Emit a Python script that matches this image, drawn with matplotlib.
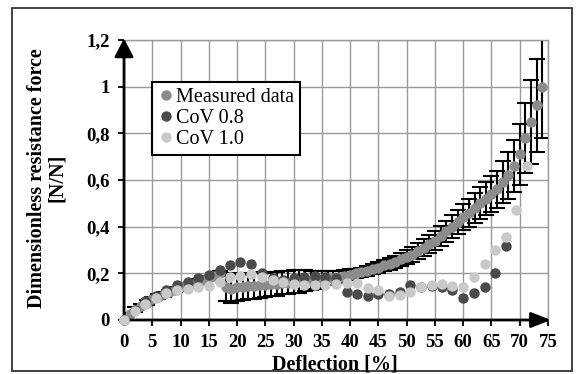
import numpy as np
import matplotlib
matplotlib.use('Agg')
import matplotlib.pyplot as plt
from matplotlib.patches import Rectangle

# measured data, 1 % steps, with standard deviation
meas_x = list(range(0, 75))
meas_y = [0.0, 0.025, 0.045, 0.06, 0.075, 0.09, 0.10, 0.11, 0.12, 0.13, 0.14, 0.15, 0.155, 0.165, 0.17, 0.18, 0.19, 0.20,
          0.14, 0.135, 0.14, 0.14, 0.145, 0.145, 0.15, 0.15, 0.155, 0.155, 0.16, 0.16, 0.165, 0.165, 0.17, 0.17, 0.172,
          0.175, 0.178, 0.18, 0.185, 0.19, 0.195,
          0.2, 0.205, 0.21, 0.22, 0.225, 0.235, 0.24, 0.25, 0.26, 0.27, 0.28, 0.295, 0.31, 0.325, 0.34, 0.36, 0.38,
          0.40, 0.42, 0.44, 0.46, 0.48, 0.50, 0.52, 0.54, 0.56, 0.59, 0.62, 0.66, 0.71, 0.78, 0.85, 0.92, 1.0]
meas_err = [0.0, 0.005, 0.01, 0.01, 0.01, 0.01, 0.01, 0.01, 0.01, 0.01, 0.01, 0.01, 0.01, 0.01, 0.01, 0.01, 0.01, 0.01,
            0.06, 0.06, 0.06, 0.055, 0.055, 0.055, 0.055, 0.05, 0.05, 0.05, 0.05, 0.05, 0.05, 0.05, 0.045, 0.04, 0.04,
            0.035, 0.03, 0.03, 0.025, 0.025, 0.025,
            0.02, 0.02, 0.02, 0.022, 0.022, 0.024, 0.025, 0.026, 0.028, 0.03, 0.032, 0.034, 0.036, 0.038, 0.04, 0.042,
            0.045, 0.048, 0.052, 0.056, 0.06, 0.064, 0.068, 0.072, 0.076, 0.08, 0.09, 0.1, 0.11, 0.13, 0.15, 0.18,
            0.2, 0.22]

# simulations
cov_x = [0, 1.9, 3.8, 5.6, 7.5, 9.4, 11.3, 13.1, 15, 16.9, 18.8, 20.6, 22.5, 24.4, 26.3, 28.1, 30, 31.9, 33.8,
         35.6, 37.5, 39.4, 41.3, 43.1, 45, 46.9, 48.8, 50.6, 52.5, 54.4, 56.3, 58.1, 60, 61.9, 63.8, 65.6, 67.5,
         69.4, 71.3]
cov08_y = [0, 0.045, 0.08, 0.105, 0.13, 0.15, 0.165, 0.18, 0.195, 0.215, 0.235, 0.25, 0.24, 0.2, 0.18, 0.17, 0.18,
           0.186, 0.19, 0.186, 0.18, 0.12, 0.11, 0.105, 0.11, 0.11, 0.12, 0.15, 0.14, 0.145, 0.14, 0.13, 0.094,
           0.115, 0.143, 0.2, 0.318]
cov10_y = [0, 0.04, 0.07, 0.095, 0.115, 0.13, 0.135, 0.14, 0.145, 0.165, 0.183, 0.19, 0.197, 0.185, 0.17, 0.165,
           0.155, 0.15, 0.15, 0.15, 0.155, 0.158, 0.158, 0.137, 0.13, 0.105, 0.107, 0.12, 0.143, 0.15, 0.155, 0.145,
           0.14, 0.186, 0.24, 0.3, 0.356, 0.47, 0.66]

xticks = list(range(0, 80, 5))
yticks = [0, 0.2, 0.4, 0.6, 0.8, 1.0, 1.2]
ytick_labels = ['0', '0,2', '0,4', '0,6', '0,8', '1', '1,2']

plt.rcParams['font.family'] = ['Liberation Serif', 'DejaVu Serif']

fig = plt.figure(figsize=(5.81, 3.74), dpi=100)
ax = fig.add_axes([124 / 581, 1 - 320 / 374, 424 / 581, 280 / 374])

# outer frame round the whole chart
fig.patches.append(Rectangle((12 / 581, 3 / 374), 560 / 581, 363 / 374, transform=fig.transFigure,
                             fill=False, edgecolor='#333333', linewidth=1.3))

ax.errorbar(meas_x, meas_y, yerr=meas_err, fmt='none', ecolor='black', elinewidth=1.5,
            capsize=5.5, capthick=1.5, zorder=2)
ax.plot(meas_x, meas_y, 'o', color='#8c8c8c', markersize=7.5, markeredgewidth=0,
        label='Measured data', zorder=3, clip_on=False)
ax.plot(cov_x[:len(cov08_y)], cov08_y, 'o', color='#4a4a4a', markersize=7.5, markeredgewidth=0,
        label='CoV 0.8', zorder=4, clip_on=False)
ax.plot(cov_x, cov10_y, 'o', color='#c9c9c9', markersize=7.5, markeredgewidth=0,
        label='CoV 1.0', zorder=5, clip_on=False)

ax.set_xlim(0, 75)
ax.set_ylim(0, 1.2)
ax.set_xticks(xticks)
ax.set_yticks(yticks)
ax.set_yticklabels(ytick_labels)
ax.grid(True, color='#9a9a9a', linewidth=1.0)
ax.set_axisbelow(True)
for s in ['top', 'right']:
    ax.spines[s].set_color('#9a9a9a')
    ax.spines[s].set_linewidth(1.0)
for s in ['left', 'bottom']:
    ax.spines[s].set_visible(False)
ax.tick_params(direction='out', length=4, width=1.3, color='black', pad=6)
for lab in ax.get_xticklabels() + ax.get_yticklabels():
    lab.set_fontsize(13.5)
    lab.set_fontweight('bold')

# axis lines with arrow heads
ax.annotate('', xy=(1.007, 0), xytext=(0, 0), xycoords='axes fraction', annotation_clip=False,
            arrowprops=dict(arrowstyle='-|>,head_length=1.2,head_width=0.47', lw=2, color='black',
                            shrinkA=0, shrinkB=0))
ax.annotate('', xy=(0, 1.005), xytext=(0, 0), xycoords='axes fraction', annotation_clip=False,
            arrowprops=dict(arrowstyle='-|>,head_length=1.1,head_width=0.58', lw=2, color='black',
                            shrinkA=0, shrinkB=0))

fig.text(47 / 581, 1 - 178 / 374, 'Dimensionless resistance force\n[N/N]', rotation=90,
         ha='center', va='center', multialignment='center', fontsize=14.5, fontweight='bold',
         linespacing=1.0)
fig.text(335 / 581, 1 - 364 / 374, 'Deflection [%]', ha='center', va='center',
         fontsize=14.5, fontweight='bold')

leg = ax.legend(loc='upper left', bbox_to_anchor=(0.066, 0.85), borderaxespad=0, fontsize=14.5,
                frameon=True, fancybox=False, edgecolor='black', framealpha=1,
                handlelength=0.8, handletextpad=0.1, labelspacing=0.1, borderpad=0.3)
leg.get_frame().set_linewidth(1.5)
leg.set_zorder(10)

fig.savefig('out.png', dpi=100)
